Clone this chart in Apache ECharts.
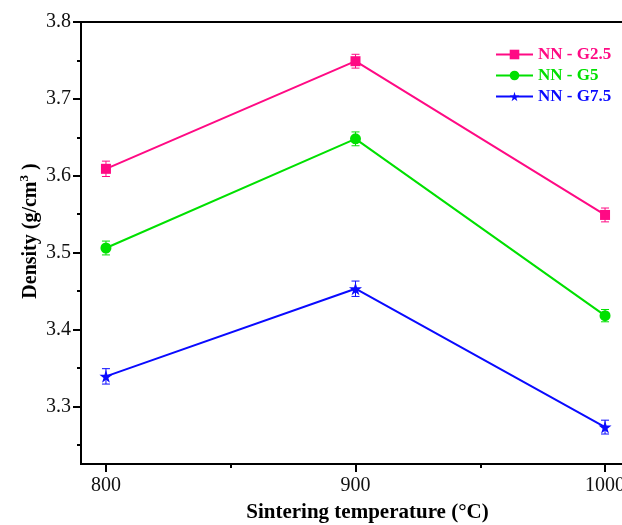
<!DOCTYPE html>
<html>
<head>
<meta charset="utf-8">
<script src="https://cdn.jsdelivr.net/npm/echarts@6/dist/echarts.min.js"></script>
<style>
  html, body { margin: 0; padding: 0; background: #fff; }
  #chart { width: 622px; height: 525px; }
</style>
</head>
<body>
<div id="chart"></div>
<script>
// sintering temperatures (°C)
const temps = [800, 900, 1000];
const seriesNames = ["NN - G2.5", "NN - G5", "NN - G7.5"];
const densG25 = [3.609, 3.749, 3.549];
const densG5 = [3.506, 3.648, 3.418];
const densG75 = [3.339, 3.453, 3.273];
// error bar half-heights
const errG25 = [0.01, 0.009, 0.009];
const errG5 = [0.009, 0.009, 0.008];
const errG75 = [0.01, 0.01, 0.009];
const yMajor = [3.3, 3.4, 3.5, 3.6, 3.7, 3.8];
const yMinor = [3.25, 3.35, 3.45, 3.55, 3.65, 3.75];
const xMajor = [800, 900, 1000];
const xMinor = [850, 950];

const colors = ["#ff0a84", "#00e000", "#0a0aff"];
const starPath = "path://M50,0 L61,35 L98,35 L68,57 L79,91 L50,70 L21,91 L32,57 L2,35 L39,35 Z";
const symbols = ["rect", "circle", starPath];
const symbolSizes = [10, 11, 13];
const allDens = [densG25, densG5, densG75];
const allErr = [errG25, errG5, errG75];

const serif = "Liberation Serif";
const chart = echarts.init(document.getElementById("chart"));

const lineSeries = allDens.map((d, i) => ({
  name: seriesNames[i],
  type: "line",
  data: temps.map((t, j) => [t, d[j]]),
  symbol: symbols[i],
  symbolSize: symbolSizes[i],
  showAllSymbol: true,
  itemStyle: { color: colors[i] },
  lineStyle: { color: colors[i], width: 2 },
  z: 3
}));

const errSeries = allDens.map((d, i) => ({
  type: "custom",
  data: temps.map((t, j) => [t, d[j] - allErr[i][j], d[j] + allErr[i][j]]),
  renderItem: function (params, api) {
    const lo = api.coord([api.value(0), api.value(1)]);
    const hi = api.coord([api.value(0), api.value(2)]);
    const w = 4;
    const st = { stroke: colors[i], lineWidth: 1 };
    return {
      type: "group",
      children: [
        { type: "line", shape: { x1: lo[0], y1: lo[1], x2: hi[0], y2: hi[1] }, style: st },
        { type: "line", shape: { x1: lo[0] - w, y1: lo[1], x2: lo[0] + w, y2: lo[1] }, style: st },
        { type: "line", shape: { x1: hi[0] - w, y1: hi[1], x2: hi[0] + w, y2: hi[1] }, style: st }
      ]
    };
  },
  z: 2,
  silent: true
}));

chart.setOption({
  backgroundColor: "#fff",
  animation: false,
  grid: {
    left: 81, top: 22, right: -8, bottom: 61,
    show: true, borderColor: "#000", borderWidth: 2,
    outerBoundsMode: "none"
  },
  legend: {
    orient: "vertical",
    left: 490, top: 41,
    itemWidth: 37, itemHeight: 12, itemGap: 4,
    data: seriesNames.map((n, i) => ({
      name: n,
      textStyle: { color: colors[i] }
    })),
    textStyle: { fontFamily: serif, fontWeight: "bold", fontSize: 17 }
  },
  xAxis: [
    {
      type: "value", min: 790, max: 1010,
      name: "Sintering temperature (°C)",
      nameLocation: "middle", nameGap: 38,
      nameMoveOverlap: false,
      nameTextStyle: {
        fontFamily: serif, fontWeight: "bold", fontSize: 21, color: "#000",
        padding: [0, 0, 0, 24]
      },
      axisLine: { lineStyle: { color: "#000", width: 2 } },
      axisTick: { customValues: xMajor, length: 8, lineStyle: { color: "#000", width: 2 } },
      axisLabel: {
        customValues: xMajor, fontFamily: serif, fontSize: 20, color: "#111", margin: 12,
        formatter: v => String(v)
      },
      splitLine: { show: false }
    },
    {
      type: "value", min: 790, max: 1010, gridIndex: 0, position: "bottom",
      axisLine: { show: false },
      axisTick: { customValues: xMinor, length: 4, lineStyle: { color: "#000", width: 2 } },
      axisLabel: { show: false },
      splitLine: { show: false }
    }
  ],
  yAxis: [
    {
      type: "value", min: 3.225, max: 3.8,
      name: "Density (g/cm{sup|3} )",
      nameLocation: "middle", nameGap: 37,
      nameMoveOverlap: false,
      nameTextStyle: {
        fontFamily: serif, fontWeight: "bold", fontSize: 20, color: "#000",
        padding: [0, 0, 0, 24],
        rich: { sup: { fontFamily: serif, fontWeight: "bold", fontSize: 13, color: "#000", padding: [0, 0, 13, 0] } }
      },
      axisLine: { lineStyle: { color: "#000", width: 2 } },
      axisTick: { customValues: yMajor, length: 8, lineStyle: { color: "#000", width: 2 } },
      axisLabel: {
        customValues: yMajor, fontFamily: serif, fontSize: 20, color: "#111", margin: 10,
        formatter: v => v.toFixed(1)
      },
      splitLine: { show: false }
    },
    {
      type: "value", min: 3.225, max: 3.8, position: "left",
      axisLine: { show: false },
      axisTick: { customValues: yMinor, length: 4, lineStyle: { color: "#000", width: 2 } },
      axisLabel: { show: false },
      splitLine: { show: false }
    }
  ],
  series: lineSeries.concat(errSeries)
});
</script>
</body>
</html>
